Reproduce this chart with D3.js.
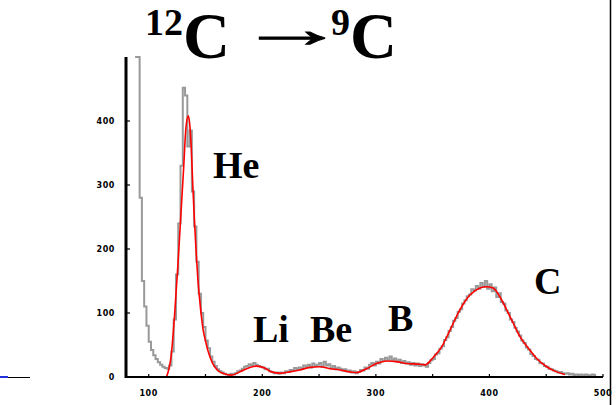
<!DOCTYPE html>
<html>
<head>
<meta charset="utf-8">
<script src="https://cdn.jsdelivr.net/npm/d3@7"></script>
<style>
  body { margin: 0; background: #fff; }
  svg { display: block; }
</style>
</head>
<body>
<div id="chart"></div>
<script>
// tick labels
const xTicks = [100, 200, 300, 400, 500];
const xMinorTicks = [100, 150, 200, 250, 300, 350, 400, 450, 500];
const yTicks = [0, 100, 200, 300, 400];

// measured spectrum (grey histogram), bins of 2 starting at 88
const grayStart = 88;
const grayBin = 2;
const grayCounts = [
  600, 600, 280, 150, 110, 80, 55, 42, 34, 28,
  23, 19, 16, 14, 13, 18, 40, 90, 160, 240,
  330, 452, 440, 360, 385, 290, 235, 180, 130, 100,
  78, 57, 45, 32, 24, 17, 12, 9, 7, 5,
  4, 3, 5, 4, 6, 9, 10, 13, 16, 17,
  20, 18, 22, 19, 17, 16, 15, 12, 13, 9,
  8, 6, 7, 5, 7, 6, 9, 8, 11, 10,
  14, 12, 15, 13, 18, 16, 19, 15, 21, 17,
  19, 22, 16, 24, 18, 20, 14, 17, 12, 15,
  13, 10, 12, 9, 10, 7, 9, 6, 8, 11,
  10, 15, 13, 19, 22, 18, 24, 21, 28, 25,
  30, 27, 32, 26, 29, 24, 27, 22, 25, 21,
  23, 19, 22, 18, 21, 17, 20, 18, 16, 22,
  26, 28, 35, 37, 44, 48, 58, 62, 72, 78,
  88, 92, 102, 106, 115, 120, 126, 129, 137, 135,
  142, 138, 147, 141, 150, 138, 145, 134, 140, 125,
  131, 117, 115, 104, 100, 90, 86, 77, 71, 65,
  57, 53, 46, 43, 36, 33, 28, 27, 22, 21,
  17, 16, 13, 12, 10, 9, 7, 8, 6, 5,
  6, 4, 5, 3, 4, 3, 4, 2, 4, 3,
  2, 4, 3
];

// fit (red curve)
const fitEnergy = [
  115.6, 120.0, 122.9, 125.6, 128.2, 130.8, 132.6, 134.8, 136.1, 137.4,
  138.8, 140.1, 142.0, 143.4, 144.9, 146.7, 148.0, 149.8, 152.0, 154.2,
  156.4, 159.5, 162.6, 165.2, 172.9, 180.2, 189.0, 194.9, 202.2, 208.1,
  215.4, 224.2, 233.0, 241.9, 250.7, 259.5, 268.3, 277.1, 283.0, 291.8,
  300.6, 309.4, 318.2, 327.0, 338.8, 343.2, 350.2, 357.9, 365.2, 374.0,
  382.8, 391.6, 397.5, 403.3, 409.3, 415.2, 421.0, 426.9, 434.2, 441.6,
  450.4, 459.2, 466.5
];
const fitCount = [
  0, 37, 100, 172, 250, 328, 386, 408, 395, 360,
  300, 250, 188, 150, 120, 90, 73, 58, 42, 30,
  21, 13, 8, 6, 3, 8, 15, 17, 14, 8,
  6, 8, 11, 15, 16, 13, 11, 8, 7, 13,
  21, 25, 24, 21, 20, 19, 30, 47, 73, 105,
  128, 139, 141, 139, 125, 105, 84, 63, 45, 29,
  16, 8, 4
];

// peak labels
const peakNames = ["He", "Li", "Be", "B", "C"];

const W = 616, H = 405;
const svg = d3.select("#chart").append("svg")
  .attr("width", W).attr("height", H);

const x = d3.scaleLinear().domain([80, 500]).range([126, 603]);
const y = d3.scaleLinear().domain([0, 500]).range([377, 57]).clamp(true);

// grey histogram
const grayPts = grayCounts.map((c, i) => [grayStart + i * grayBin, c]);
grayPts.push([grayStart + grayCounts.length * grayBin, grayCounts[grayCounts.length - 1]]);

svg.append("path")
  .datum(grayPts)
  .attr("fill", "none")
  .attr("stroke", "#999")
  .attr("stroke-width", 2)
  .attr("d", d3.line()
    .curve(d3.curveStepAfter)
    .x(d => x(d[0]))
    .y(d => y(d[1])));

// red fit
svg.append("path")
  .datum(fitEnergy.map((e, i) => [e, fitCount[i]]))
  .attr("fill", "none")
  .attr("stroke", "#ff0000")
  .attr("stroke-width", 1.6)
  .attr("d", d3.line()
    .curve(d3.curveMonotoneX)
    .x(d => x(d[0]))
    .y(d => y(d[1])));

// x axis
const xAxis = svg.append("g");
xAxis.append("line")
  .attr("x1", x(80)).attr("x2", x(500))
  .attr("y1", y(0)).attr("y2", y(0))
  .attr("stroke", "#000").attr("stroke-width", 2);
xAxis.selectAll(".tk").data(xMinorTicks).join("line")
  .attr("x1", d => x(d)).attr("x2", d => x(d))
  .attr("y1", y(0)).attr("y2", y(0) - 3)
  .attr("stroke", "#000").attr("stroke-width", 1.2);
xAxis.selectAll("text").data(xTicks).join("text")
  .attr("x", d => x(d)).attr("y", 396)
  .attr("text-anchor", "middle")
  .style("font", "bold 8px 'DejaVu Sans'")
  .style("letter-spacing", "0.6px")
  .text(d => d);

// y axis
const yAxis = svg.append("g");
yAxis.append("line")
  .attr("x1", x(80)).attr("x2", x(80))
  .attr("y1", y(0) + 1).attr("y2", y(500))
  .attr("stroke", "#000").attr("stroke-width", 3);
yAxis.selectAll(".tk").data(yTicks.slice(1)).join("line")
  .attr("x1", x(80)).attr("x2", x(80) + 4)
  .attr("y1", d => y(d)).attr("y2", d => y(d))
  .attr("stroke", "#000").attr("stroke-width", 1.2);
yAxis.selectAll("text").data(yTicks).join("text")
  .attr("x", 115).attr("y", d => y(d) + 3)
  .attr("text-anchor", "end")
  .style("font", "bold 8px 'DejaVu Sans'")
  .style("letter-spacing", "0.6px")
  .text(d => d);

// right frame line
svg.append("line")
  .attr("x1", 610.5).attr("x2", 610.5)
  .attr("y1", 0).attr("y2", H)
  .attr("stroke", "#000").attr("stroke-width", 1.5);

// stray fragment at the left edge
svg.append("line")
  .attr("x1", 0).attr("x2", 30).attr("y1", 377.5).attr("y2", 377.5)
  .attr("stroke", "#000").attr("stroke-width", 1);
svg.append("line")
  .attr("x1", 0).attr("x2", 8).attr("y1", 377).attr("y2", 377)
  .attr("stroke", "#2233dd").attr("stroke-width", 2);

// title: 12C -> 9C
const serif = "'Liberation Serif', 'Times New Roman', serif";
const t1 = svg.append("text")
  .attr("x", 145).attr("y", 58)
  .style("font-family", serif).style("font-weight", "bold");
t1.append("tspan").attr("font-size", 38).attr("dy", -23).text("12");
t1.append("tspan").attr("font-size", 65).attr("dy", 23).text("C");

svg.append("text")
  .attr("transform", "translate(237,47) scale(2.1,1)")
  .style("font-family", serif).style("font-weight", "bold")
  .attr("font-size", 52)
  .attr("stroke", "#000").attr("stroke-width", 0.9)
  .text("\u2192");

const t2 = svg.append("text")
  .attr("x", 331).attr("y", 58)
  .style("font-family", serif).style("font-weight", "bold");
t2.append("tspan").attr("font-size", 38).attr("dy", -23).text("9");
t2.append("tspan").attr("font-size", 65).attr("dy", 23).text("C");

// peak labels
const labelPos = [[213, 178], [253, 342], [310, 342], [388, 331], [534, 294]];
svg.selectAll(".peak").data(peakNames).join("text")
  .attr("class", "peak")
  .attr("x", (d, i) => labelPos[i][0])
  .attr("y", (d, i) => labelPos[i][1])
  .style("font", "bold 38px " + serif)
  .text(d => d);
</script>
</body>
</html>
